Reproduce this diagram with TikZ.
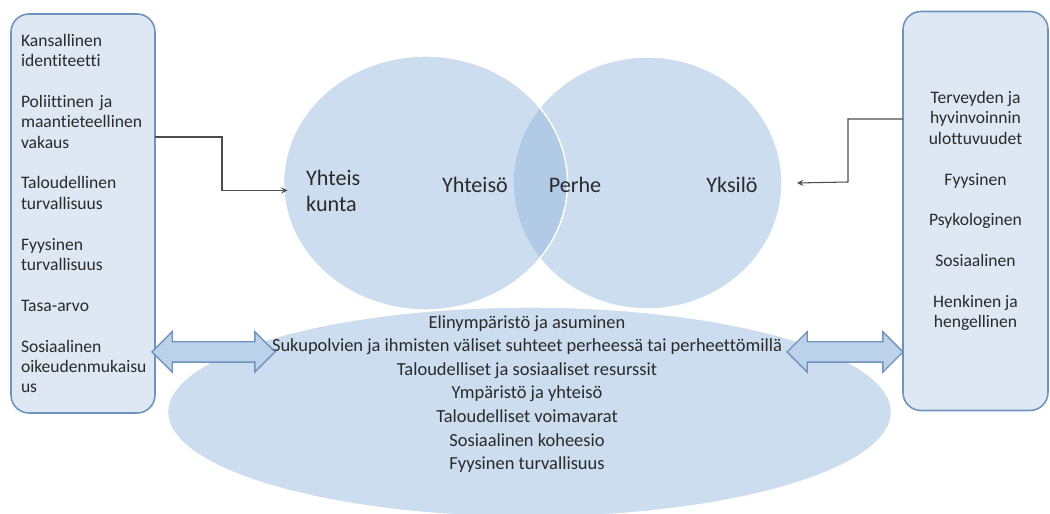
\documentclass[tikz,border=0pt]{standalone}
\usepackage{fontspec}
\setmainfont{Carlito}[Ligatures=NoCommon]
\usepackage{tikz}
\usetikzlibrary{shapes.geometric}
\usetikzlibrary{shapes.arrows}
\usepackage{xcolor}
\definecolor{pallo}{HTML}{90B5DC}
\definecolor{pohja}{HTML}{CCDDEF}
\definecolor{laatikko}{HTML}{DDE8F4}
\definecolor{reuna}{HTML}{7093BE}
\definecolor{nuoli}{HTML}{BCD2EB}
\definecolor{teksti}{HTML}{2A2A2A}

\begin{document}
\begin{tikzpicture}[
  laatikko/.style={draw=reuna,line width=0.9pt,fill=laatikko,rounded corners=0.36cm,
    minimum height=7.98cm,minimum width=2.88cm,inner sep=0pt,outer sep=0pt,
    font=\fontsize{10}{11.6}\selectfont,text=teksti},
  pallo/.style={ellipse,fill=pallo,fill opacity=0.46,draw=white,draw opacity=1,
    line width=0.8pt,inner sep=0pt,outer sep=0pt},
  nimi/.style={font=\fontsize{12.6}{14.4}\selectfont,text=teksti},
  paksu/.style={double arrow,draw=reuna,fill=nuoli,line width=0.8pt,
    double arrow head extend=0.2cm,inner sep=0pt},
  yhteys/.style={draw=black!70,line width=0.6pt,-stealth}]
\useasboundingbox (0,0) rectangle (21,10.28);

% laatikot reunoilla
\node[laatikko,text width=2.48cm,align=left] (vasen) at (1.66,6.01)
  {Kansallinen\\identiteetti\\[11.6pt]
   Poliittinen ja\\maantieteellinen\\vakaus\\[11.6pt]
   Taloudellinen\\turvallisuus\\[11.6pt]
   Fyysinen\\turvallisuus\\[11.6pt]
   Tasa-arvo\\[11.6pt]
   Sosiaalinen\\oikeudenmukaisu\\us};
\node[laatikko,align=center,minimum width=2.9cm] (oikea) at (19.51,6.06)
  {Terveyden ja\\hyvinvoinnin\\ulottuvuudet\\[11.6pt]
   Fyysinen\\[11.6pt]
   Psykologinen\\[11.6pt]
   Sosiaalinen\\[11.6pt]
   Henkinen ja\\hengellinen};

% kaksi palloa
\node[pallo,minimum width=5.38cm,minimum height=5.04cm] (yksilo) at (12.95,6.62) {};
\node[pallo,minimum width=5.68cm,minimum height=5.08cm] (yhteiso) at (8.51,6.62) {};
\node[nimi,align=left,anchor=west] (kunta) at (6.0,6.46) {Yhteis\\kunta};
\node[nimi] (yhteisoteksti) at (9.5,6.58) {Yhteisö};
\node[nimi] (perhe) at (11.5,6.58) {Perhe};
\node[nimi] (yksiloteksti) at (14.64,6.58) {Yksilö};

% alaellipsi
\node[ellipse,fill=pohja,draw=white,line width=0.8pt,minimum width=14.48cm,
  minimum height=4.2cm,inner sep=0pt] (ymparisto) at (10.59,2.04) {};
\node[align=center,font=\fontsize{10.5}{13.4}\selectfont,text=teksti] (tekijat)
  at ([yshift=0.36cm,xshift=-0.05cm]ymparisto.center)
  {Elinympäristö ja asuminen\\
   Sukupolvien ja ihmisten väliset suhteet perheessä tai perheettömillä\\
   Taloudelliset ja sosiaaliset resurssit\\
   Ympäristö ja yhteisö\\
   Taloudelliset voimavarat\\
   Sosiaalinen koheesio\\
   Fyysinen turvallisuus};

% yhteydet
\draw[yhteys] (vasen.east |- 0,7.54) -| (4.44,6.47) -- ([yshift=-0.15cm,xshift=0.08cm]yhteiso.west);
\draw[yhteys] (oikea.west |- 0,7.9) -| (16.96,6.64) -- ([xshift=0.3cm]yksilo.east);
\node[paksu,minimum height=2.46cm] (nuolivasen) at (4.27,3.24) {\rule{0pt}{0.38cm}};
\node[paksu,minimum height=2.32cm] (nuolioikea) at (16.9,3.24) {\rule{0pt}{0.38cm}};
\end{tikzpicture}
\end{document}
